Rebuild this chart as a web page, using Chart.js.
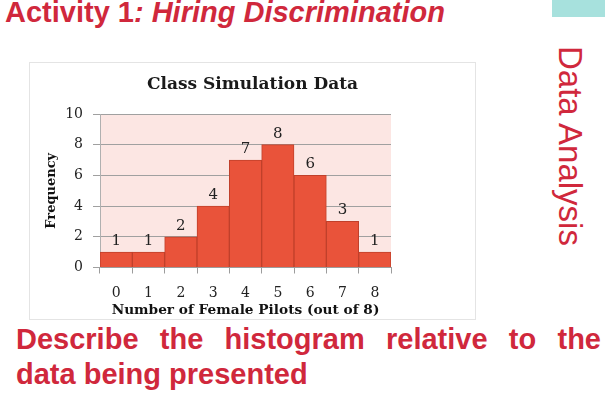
<!DOCTYPE html>
<html>
<head>
<meta charset="utf-8">
<script src="https://cdn.jsdelivr.net/npm/chart.js@4"></script>
<style>
html,body{margin:0;padding:0;background:#fff;width:605px;height:398px;overflow:hidden;}
body{position:relative;font-family:"Liberation Sans",Arial,sans-serif;}
.red{color:#D0283C;}
#title{position:absolute;left:5px;top:-2px;font-size:29px;line-height:29px;font-weight:bold;white-space:nowrap;}
#teal{position:absolute;left:552px;top:0;width:53px;height:17px;background:#A7E1DD;}
#side{position:absolute;left:587px;top:46px;font-size:33px;line-height:33px;white-space:nowrap;transform:rotate(90deg);transform-origin:0 0;}
#box{position:absolute;left:29px;top:62px;width:447px;height:258px;border:1px solid #e4e4e4;box-sizing:border-box;background:#fff;}
#wrap{position:absolute;left:29px;top:62px;width:447px;height:258px;}
#desc{position:absolute;left:16px;top:322px;width:585px;font-size:29px;line-height:35px;font-weight:bold;text-align:justify;}
</style>
</head>
<body>
<div id="title" class="red">Activity 1<i>: Hiring Discrimination</i></div>
<div id="teal"></div>
<div id="side" class="red">Data Analysis</div>
<div id="box"></div>
<div id="wrap"><canvas id="c" width="447" height="258"></canvas></div>
<div id="desc" class="red">Describe the histogram relative to the data being presented</div>
<script>
const categories = ['0','1','2','3','4','5','6','7','8'];
const frequencies = [1, 1, 2, 4, 7, 8, 6, 3, 1];
const yTickMin = 0;
const yTickMax = 10;
const yTickStep = 2;
const chartTitle = 'Class Simulation Data';
const xAxisTitle = 'Number of Female Pilots (out of 8)';
const yAxisTitle = 'Frequency';

const plotBackground = {
  id: 'plotBackground',
  beforeDraw(chart) {
    const {ctx, chartArea: a} = chart;
    ctx.save();
    ctx.fillStyle = '#FCE6E3';
    ctx.fillRect(a.left, a.top, a.right - a.left, a.bottom - a.top);
    ctx.restore();
  }
};

const valueLabels = {
  id: 'valueLabels',
  afterDatasetsDraw(chart) {
    const {ctx} = chart;
    const meta = chart.getDatasetMeta(0);
    ctx.save();
    ctx.font = '15px "DejaVu Serif"';
    ctx.fillStyle = '#222';
    ctx.textAlign = 'center';
    ctx.textBaseline = 'middle';
    meta.data.forEach((bar, i) => {
      ctx.fillText(String(chart.data.datasets[0].data[i]), bar.x, bar.y - 11);
    });
    ctx.restore();
  }
};

const centeredTitle = {
  id: 'centeredTitle',
  afterDraw(chart) {
    const {ctx} = chart;
    ctx.save();
    ctx.font = 'bold 17px "DejaVu Serif"';
    ctx.fillStyle = '#1a1a1a';
    ctx.textAlign = 'center';
    ctx.textBaseline = 'middle';
    ctx.fillText(chartTitle, chart.width / 2, 23);
    ctx.restore();
  }
};

new Chart(document.getElementById('c'), {
  type: 'bar',
  data: {
    labels: categories,
    datasets: [{
      data: frequencies,
      backgroundColor: '#E9533A',
      borderColor: '#C0402B',
      borderWidth: 1,
      barPercentage: 1,
      categoryPercentage: 1
    }]
  },
  plugins: [plotBackground, valueLabels, centeredTitle],
  options: {
    responsive: false,
    animation: false,
    devicePixelRatio: 1,
    layout: {padding: {left: 0, top: 52, right: 85, bottom: 0}},
    plugins: {legend: {display: false}, tooltip: {enabled: false}, title: {display: false}},
    scales: {
      x: {
        offset: true,
        grid: {offset: true, drawOnChartArea: false, tickLength: 6, color: '#9c9c9c'},
        border: {color: '#9c9c9c'},
        ticks: {font: {family: 'DejaVu Serif', size: 14}, color: '#222', padding: 11, maxRotation: 0, autoSkip: false},
        title: {display: true, text: xAxisTitle, font: {family: 'DejaVu Serif', size: 13.7, weight: 'bold'}, color: '#111', padding: {top: 0, bottom: 1}},
        afterFit(s) { s.height = 52.5; }
      },
      y: {
        min: yTickMin,
        max: yTickMax,
        ticks: {stepSize: yTickStep, font: {family: 'DejaVu Serif', size: 14}, color: '#222', padding: 10},
        grid: {color: '#a0a0a0', tickLength: 7},
        border: {color: '#b0b0b0'},
        title: {display: true, text: yAxisTitle, font: {family: 'DejaVu Serif', size: 13, weight: 'bold'}, color: '#111', padding: {top: 15, bottom: 0}},
        afterFit(s) { s.width = 71; }
      }
    }
  }
});
</script>
</body>
</html>
